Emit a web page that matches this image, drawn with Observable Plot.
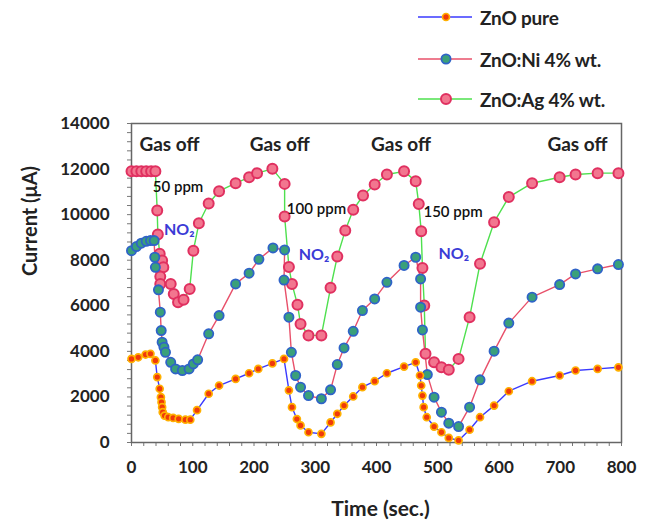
<!DOCTYPE html>
<html>
<head>
<meta charset="utf-8">
<script src="https://cdn.jsdelivr.net/npm/d3@7"></script>
<script src="https://cdn.jsdelivr.net/npm/@observablehq/plot@0.6"></script>
<style>
  body { margin: 0; background: #fff; font-family: Lato, "Open Sans", sans-serif; }
  #wrap { width: 652px; }
  #legend { position: relative; width: 652px; height: 112px; }
  .entry { position: absolute; left: 416px; height: 24px; display: flex; align-items: center; }
  .entry span { font-weight: bold; font-size: 19px; color: #222; margin-left: 6px; letter-spacing: -0.2px; }
  svg { display: block; }
</style>
</head>
<body>
<div id="wrap">
  <div id="legend"></div>
  <div id="chart"></div>
</div>
<script>
// ---- Data ----
const seriesNames = ["ZnO pure", "ZnO:Ni 4% wt.", "ZnO:Ag 4% wt."];

const pureTime = [0, 11, 23, 31, 39, 42, 46, 48, 49, 50, 51, 54, 60, 68, 77, 88, 96, 107, 126, 143, 170, 192, 207, 230, 249,
  257, 262, 270, 276, 289, 310, 325, 336, 347, 362, 377, 397, 417, 445, 464,
  471, 473, 475, 477, 482, 494, 506, 518, 534, 552, 569, 592, 616, 654, 699, 725, 761, 795];
const pureCurrent = [3670, 3740, 3860, 3890, 3600, 2870, 2360, 1990, 1770, 1550, 1330, 1180, 1110, 1080, 1040, 1000, 1000, 1420, 2140, 2500, 2790, 3040, 3230, 3470, 3670,
  2290, 1550, 1030, 750, 450, 380, 880, 1260, 1620, 2020, 2430, 2690, 3040, 3330, 3520,
  2940, 2500, 2060, 1550, 1110, 700, 450, 200, 90, 560, 1110, 1620, 2250, 2690, 2940, 3160, 3230, 3300];

const niTime = [0, 8, 16, 24, 31, 37, 38, 39, 44, 47, 48.5, 50, 53, 55.5, 64, 72, 83, 94, 101, 108, 126, 143, 170, 192, 208, 231, 250,
  249, 257, 261, 268, 276, 289, 310, 325, 336, 347, 362, 377, 397, 417, 445, 464,
  472, 472, 475, 483, 494, 506, 518, 534, 552, 569, 592, 616, 654, 699, 725, 761, 795];
const niCurrent = [8420, 8600, 8750, 8830, 8860, 8860, 8130, 7690, 6700, 5720, 4910, 4400, 4180, 3960, 3520, 3230, 3160, 3230, 3450, 3630, 4770, 5570, 6960, 7430, 8040, 8540, 8450,
  7130, 5500, 3960, 2940, 2430, 2060, 1920, 2310, 3420, 4150, 4880, 5790, 6300, 7030, 7770, 8130,
  7180, 5940, 4940, 2980, 1990, 1330, 850, 700, 1550, 2750, 4010, 5240, 6380, 6930, 7400, 7620, 7810];

const agTime = [0, 8, 16, 24, 32, 39, 42, 43, 46, 50, 52, 47, 47, 64, 69, 76, 85, 95, 101, 110, 126, 143, 170, 192, 205, 230,
  250, 250, 257, 262, 271, 276, 289, 310, 325, 336, 349, 362, 378, 397, 417, 445, 464,
  469, 473, 475, 478, 480, 494, 506, 518, 534, 552, 569, 592, 616, 654, 699, 725, 761, 795];
const agCurrent = [11900, 11900, 11900, 11900, 11900, 11900, 10180, 9130, 8280, 7990, 7690, 7280, 6960, 6960, 6520, 6160, 6260, 6740, 8420, 9620, 10490, 11030, 11380, 11640, 11820, 12010,
  11350, 9920, 7700, 6960, 6050, 5200, 4700, 4700, 6790, 8160, 9300, 10210, 10840, 11320, 11760, 11900, 11470,
  10470, 9270, 7660, 6010, 3890, 3520, 3300, 3190, 3670, 5500, 7840, 9670, 10770, 11380, 11640, 11760, 11820, 11820];

const xTicks = [0, 100, 200, 300, 400, 500, 600, 700, 800];
const yTicks = [0, 2000, 4000, 6000, 8000, 10000, 12000, 14000];

const gasOffX = [62, 242, 440, 728];
const gasOffY = [13080, 13080, 13080, 13080];
const ppmLabels = ["50 ppm", "100 ppm", "150 ppm"];
const ppmX = [76, 302, 525];
const ppmY = [11190, 10220, 10090];
const no2X = [78, 298, 526];
const no2Y = [9350, 8250, 8290];

// ---- Styles ----
const styles = [
  {line: "#3a3aff", fill: "#f03a0a", stroke: "#ffb000", r: 3.5, sw: 1.7},
  {line: "#e8506a", fill: "#3aa07a", stroke: "#2f63c8", r: 4.6, sw: 1.8},
  {line: "#4ee04e", fill: "#f2768f", stroke: "#e03060", r: 5.0, sw: 2.0}
];

const rows = (t, c) => t.map((x, i) => ({t: x, c: c[i]}));
const data = [rows(pureTime, pureCurrent), rows(niTime, niCurrent), rows(agTime, agCurrent)];

// ---- Legend ----
const legend = document.getElementById("legend");
const legendTop = [5, 47, 87];
seriesNames.forEach((name, i) => {
  const s = styles[i];
  const div = document.createElement("div");
  div.className = "entry";
  div.style.top = legendTop[i] + "px";
  div.innerHTML = `<svg width="58" height="24"><line x1="2" x2="56" y1="12" y2="12" stroke="${s.line}" stroke-width="1.6"/>` +
    `<circle cx="30" cy="12" r="${s.r}" fill="${s.fill}" stroke="${s.stroke}" stroke-width="${s.sw}"/></svg><span>${name}</span>`;
  legend.appendChild(div);
});

// ---- Chart ----
const textFont = {fontFamily: "Lato, sans-serif", fontWeight: "bold"};
const marks = [
  Plot.axisX({ticks: d3.range(0, 801, 20), tickSize: 4, text: null, stroke: "#777"}),
  Plot.axisX({ticks: xTicks, tickSize: 0, tickPadding: 18, fontSize: 17, fill: "#222", label: null, ...textFont}),
  Plot.axisY({ticks: d3.range(0, 14001, 400), tickSize: 4, text: null, stroke: "#777"}),
  Plot.axisY({ticks: yTicks, tickSize: 0, tickPadding: 22, fontSize: 17, fill: "#222", label: null, tickFormat: d => String(d), ...textFont}),
  Plot.frame({stroke: "#666", strokeWidth: 1.5})
];
[2, 1, 0].forEach(i => {
  const s = styles[i];
  marks.push(Plot.line(data[i], {x: "t", y: "c", stroke: s.line, strokeWidth: 1.4}));
});
[2, 1, 0].forEach(i => {
  const s = styles[i];
  marks.push(Plot.dot(data[i], {x: "t", y: "c", r: s.r, fill: s.fill, stroke: s.stroke, strokeWidth: s.sw}));
});
marks.push(
  Plot.text(gasOffX.map((x, i) => ({x, y: gasOffY[i]})), {x: "x", y: "y", text: () => "Gas off", fontSize: 19, fill: "#222", ...textFont}),
  Plot.text(ppmLabels.map((l, i) => ({l, x: ppmX[i], y: ppmY[i]})), {x: "x", y: "y", text: "l", fontSize: 15, fill: "#111", fontFamily: "Lato, sans-serif", fontWeight: "600"}),
  Plot.text(no2X.map((x, i) => ({x, y: no2Y[i]})), {x: "x", y: "y", text: () => "NO₂", fontSize: 16, fill: "#3b3bd6", ...textFont}),
  Plot.text(["Current (μA)"], {frameAnchor: "left", dx: -101, dy: -7, rotate: -90, fontSize: 20, fill: "#222", ...textFont}),
  Plot.text(["Time (sec.)"], {frameAnchor: "bottom", dy: 73, dx: 4, fontSize: 21, fill: "#222", ...textFont})
);

const chart = Plot.plot({
  width: 652,
  height: 419,
  marginTop: 11,
  marginBottom: 89,
  marginLeft: 131,
  marginRight: 31,
  x: {domain: [0, 800]},
  y: {domain: [0, 14000]},
  style: {background: "#fff", overflow: "visible"},
  marks
});
document.getElementById("chart").appendChild(chart);
</script>
</body>
</html>
